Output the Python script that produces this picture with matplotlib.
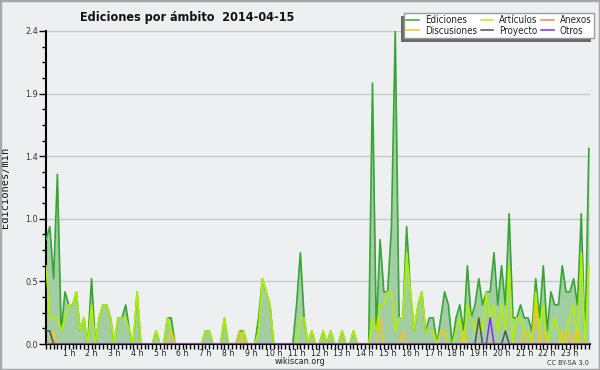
import matplotlib
matplotlib.use("Agg")
import matplotlib.pyplot as plt
from matplotlib.patches import Rectangle
from matplotlib.lines import Line2D
import numpy as np

# 10-minute slots (144 per day), values in edits per minute
ediciones = [
    0.8, 0.9, 0.5, 1.3, 0.1, 0.4, 0.3, 0.3, 0.4, 0.1, 0.2, 0.0,
    0.5, 0.0, 0.2, 0.3, 0.3, 0.2, 0.0, 0.2, 0.2, 0.3, 0.1, 0.0,
    0.4, 0.0, 0.0, 0.0, 0.0, 0.1, 0.0, 0.0, 0.2, 0.2, 0.0, 0.0,
    0.0, 0.0, 0.0, 0.0, 0.0, 0.0, 0.1, 0.1, 0.0, 0.0, 0.0, 0.2,
    0.0, 0.0, 0.0, 0.1, 0.1, 0.0, 0.0, 0.0, 0.2, 0.5, 0.4, 0.3,
    0.0, 0.0, 0.0, 0.0, 0.0, 0.0, 0.3, 0.7, 0.2, 0.0, 0.1, 0.0,
    0.0, 0.1, 0.0, 0.1, 0.0, 0.0, 0.1, 0.0, 0.0, 0.1, 0.0, 0.0,
    0.0, 0.0, 2.0, 0.1, 0.8, 0.4, 0.4, 0.9, 2.4, 0.2, 0.2, 0.9,
    0.4, 0.1, 0.3, 0.4, 0.1, 0.2, 0.2, 0.0, 0.2, 0.4, 0.3, 0.0,
    0.2, 0.3, 0.1, 0.6, 0.2, 0.3, 0.5, 0.3, 0.4, 0.4, 0.7, 0.3,
    0.6, 0.3, 1.0, 0.2, 0.2, 0.3, 0.2, 0.2, 0.1, 0.5, 0.2, 0.6,
    0.1, 0.4, 0.3, 0.3, 0.6, 0.4, 0.4, 0.5, 0.3, 1.0, 0.0, 1.5,
]
articulos = [
    0.6, 0.2, 0.2, 0.2, 0.1, 0.2, 0.3, 0.3, 0.4, 0.1, 0.2, 0.0,
    0.3, 0.0, 0.2, 0.3, 0.3, 0.2, 0.0, 0.2, 0.2, 0.2, 0.1, 0.0,
    0.4, 0.0, 0.0, 0.0, 0.0, 0.1, 0.0, 0.0, 0.2, 0.1, 0.0, 0.0,
    0.0, 0.0, 0.0, 0.0, 0.0, 0.0, 0.1, 0.1, 0.0, 0.0, 0.0, 0.2,
    0.0, 0.0, 0.0, 0.0, 0.1, 0.0, 0.0, 0.0, 0.1, 0.5, 0.4, 0.3,
    0.0, 0.0, 0.0, 0.0, 0.0, 0.0, 0.0, 0.2, 0.2, 0.0, 0.1, 0.0,
    0.0, 0.1, 0.0, 0.1, 0.0, 0.0, 0.1, 0.0, 0.0, 0.1, 0.0, 0.0,
    0.0, 0.0, 0.2, 0.1, 0.3, 0.3, 0.4, 0.4, 0.1, 0.2, 0.2, 0.7,
    0.4, 0.1, 0.3, 0.4, 0.1, 0.1, 0.1, 0.0, 0.1, 0.1, 0.0, 0.0,
    0.1, 0.2, 0.0, 0.3, 0.2, 0.1, 0.2, 0.1, 0.4, 0.2, 0.3, 0.1,
    0.3, 0.1, 0.6, 0.0, 0.2, 0.2, 0.1, 0.1, 0.0, 0.4, 0.1, 0.3,
    0.0, 0.1, 0.2, 0.1, 0.0, 0.1, 0.2, 0.3, 0.0, 0.7, 0.0, 0.6,
]
# sparse series: {slot: value}
discusiones_pts = {2: 0.1, 33: 0.1, 51: 0.1, 88: 0.2, 94: 0.1, 104: 0.1, 105: 0.1,
                   110: 0.1, 126: 0.1, 129: 0.3, 131: 0.1, 136: 0.1, 138: 0.1, 140: 0.1}
proyecto_pts = {0: 0.1, 1: 0.1, 114: 0.2, 121: 0.1}
otros_pts = {117: 0.2}
anexos_pts = {}

hour_labels = [f"{h} h" for h in range(1, 24)]
ytick_vals = [0.0, 0.48, 0.96, 1.44, 1.92, 2.4]
ytick_labels = ["0.0", "0.5", "1.0", "1.4", "1.9", "2.4"]

n = len(ediciones)
x = np.arange(n)

def dense(pts):
    arr = np.zeros(n)
    for k, v in pts.items():
        arr[k] = v
    return arr

discusiones = dense(discusiones_pts)
proyecto = dense(proyecto_pts)
otros = dense(otros_pts)
anexos = dense(anexos_pts)

BG = "#eeeff1"
C_ED = "#35a535"
C_FILL = "#a3cea3"
C_ART = "#b2f000"
C_ANX = "#ff8050"
C_DIS = "#f5c518"
C_PRO = "#505050"
C_OTR = "#8a2be2"

fig = plt.figure(figsize=(6.0, 3.7), dpi=100)
fig.patch.set_facecolor(BG)
ax = fig.add_axes([46 / 600, 1 - 344 / 370, 544 / 600, 313 / 370])
ax.set_facecolor(BG)

FONT = dict(family="DejaVu Sans", stretch="condensed")

ax.fill_between(x, ediciones, 0, color=C_FILL, lw=0, zorder=2)
ax.plot(x, ediciones, color=C_ED, lw=1.2, zorder=3)
ax.plot(x, anexos, color=C_ANX, lw=1.1, zorder=3)
ax.plot(x, articulos, color=C_ART, lw=1.2, zorder=4)
ax.plot(x, discusiones, color=C_DIS, lw=1.1, zorder=5)
ax.plot(x, proyecto, color=C_PRO, lw=1.1, zorder=5)
ax.plot(x, otros, color=C_OTR, lw=1.1, zorder=5)

ax.set_xlim(0, n - 0.7)
ax.set_ylim(0, 2.4)

for s in ["top", "right"]:
    ax.spines[s].set_visible(False)
for s in ["left", "bottom"]:
    ax.spines[s].set_linewidth(1.5)
    ax.spines[s].set_color("black")

ax.set_yticks(ytick_vals)
ax.set_yticklabels(ytick_labels, fontsize=6.5, color="#333333", **FONT)
ax.set_yticks(np.arange(0, 2.41, 0.12), minor=True)
ax.tick_params(axis="y", which="major", length=5, width=1, pad=1)
ax.tick_params(axis="y", which="minor", length=3, width=1)
ax.yaxis.grid(True, which="major", color="#c8c8c8", lw=1)
ax.set_axisbelow(True)

ax.set_xticks(np.arange(6, 144, 6))
ax.set_xticklabels(hour_labels, fontsize=6.2, color="#222222", **FONT)
ax.set_xticks(np.arange(0, n, 1), minor=True)
ax.tick_params(axis="x", which="both", length=3.5, width=1, direction="out", pad=0)

ax.set_ylabel("Ediciones/min", fontsize=7.5, family="DejaVu Sans Mono", color="#111111")
ax.yaxis.set_label_coords(-36 / 544, 0.5)

fig.text(187 / 600, 1 - 17 / 370, "Ediciones por ámbito  2014-04-15", ha="center", va="center",
         fontsize=9, fontweight="bold", color="#111111", **FONT)
fig.text(300 / 600, 1 - 362 / 370, "wikiscan.org", ha="center", va="center", fontsize=6.5,
         color="#222222", **FONT)
fig.text(589 / 600, 1 - 363 / 370, "CC BY-SA 3.0", ha="right", va="center", fontsize=5.2,
         color="#333333", **FONT)

# legend with drop shadow
lx0, lx1, ly0, ly1 = 404, 594, 12, 38
fig.patches.append(Rectangle(((lx0 - 3.5) / 600, 1 - (ly1 + 4) / 370), (lx1 - lx0) / 600,
                             (ly1 - ly0) / 370, transform=fig.transFigure,
                             facecolor="#6a6a6a", edgecolor="none", zorder=4))
handles = [Line2D([], [], color=c, lw=1.1) for c in [C_ED, C_DIS, C_ART, C_PRO, C_ANX, C_OTR]]
labels = ["Ediciones", "Discusiones", "Artículos", "Proyecto", "Anexos", "Otros"]
leg = fig.legend(handles, labels, ncol=3, loc="lower left",
                 bbox_to_anchor=(lx0 / 600, 1 - ly1 / 370, (lx1 - lx0) / 600, (ly1 - ly0) / 370),
                 mode="expand", borderaxespad=0, fancybox=False, framealpha=1,
                 edgecolor="#9a9a9a", facecolor="white", prop=dict(size=7, **FONT),
                 handlelength=1.3, handletextpad=0.6, columnspacing=0.4, labelspacing=0.05,
                 borderpad=0.25)
leg.get_frame().set_linewidth(1)
leg.set_zorder(5)
for t in leg.get_texts():
    t.set_color("#222222")

# outer border
fig.patches.append(Rectangle((0, 0), 1, 1, transform=fig.transFigure, fill=False,
                             edgecolor="#a8a8a8", lw=2.5, zorder=10))

fig.savefig("out.png", dpi=100, facecolor=BG)
